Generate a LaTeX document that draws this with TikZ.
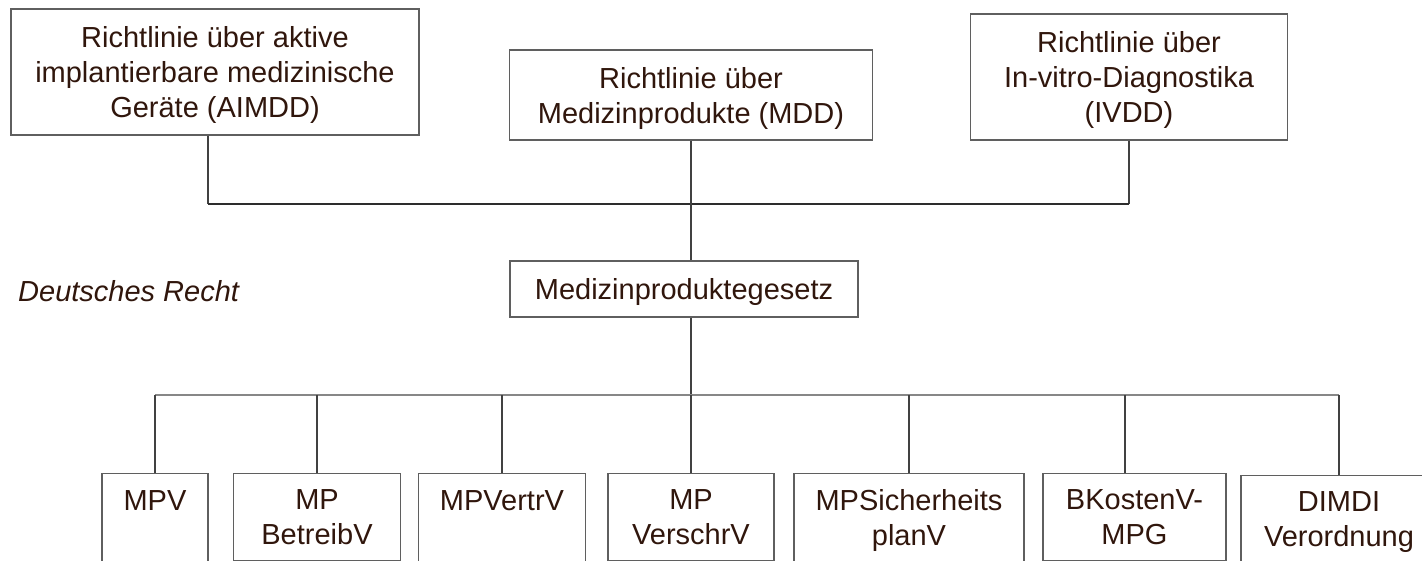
\documentclass[tikz,border=0pt]{standalone}
\usepackage{fontspec}
\setmainfont{Liberation Sans}
\usetikzlibrary{positioning}
\definecolor{schrift}{RGB}{48,22,12}
\definecolor{rahmen}{RGB}{95,95,95}
\definecolor{linie}{RGB}{65,65,65}
\definecolor{balken}{RGB}{45,45,45}
\definecolor{leiste}{RGB}{135,135,135}

\begin{document}
\begin{tikzpicture}[x=1pt,y=-1pt,
    every node/.style={text=schrift,font=\fontsize{29}{35}\selectfont},
    richtlinie/.style={draw=rahmen,line width=1.3pt,align=center,inner sep=0pt,text depth=0pt},
    verordnung/.style={draw=rahmen,line width=1.3pt,align=center,anchor=north,inner xsep=0pt,inner ysep=16pt},
    einzeilig/.style={text height=21pt,text depth=60pt},
    ast/.style={draw=linie,line width=1.3pt}]
            \useasboundingbox (0,0) rectangle (1422,560);
            \node[richtlinie,minimum width=408,minimum height=126] (aimdd) at (215,72) {Richtlinie über aktive\\implantierbare medizinische\\Geräte (AIMDD)};
            \node[richtlinie,minimum width=363,minimum height=90] (mdd) at (691,95) {Richtlinie über\\Medizinprodukte (MDD)};
            \node[richtlinie,minimum width=317,minimum height=126] (ivdd) at (1129,77) {Richtlinie über\\In-vitro-Diagnostika\\(IVDD)};
            \coordinate (busL) at (208,204); \coordinate (busR) at (1129,204);
            \draw[ast] (aimdd.south -| busL) -- (busL); \draw[ast] (ivdd.south -| busR) -- (busR);
            \draw[draw=balken,line width=2.5pt] (busL) -- (busR);
            \node[richtlinie,minimum width=348,minimum height=56] (mpg) at (684,289) {Medizinproduktegesetz};
            \node[font=\itshape\fontsize{29}{35}\selectfont,anchor=base west,inner sep=0pt] (recht) at (18,301) {Deutsches Recht};
            \draw[ast] (mdd.south) -- (mdd.south |- mpg.north);
            \coordinate (busU) at (691,395);
            \draw[ast] (mdd.south |- mpg.south) -- (busU);
            \node[verordnung,einzeilig,minimum width=106] (mpv) at (155,473) {MPV};
            \node[verordnung,minimum width=167] (betreib) at (317,473) {MP\\BetreibV};
            \node[verordnung,einzeilig,minimum width=167] (vertr) at (502,473) {MPVertrV};
            \node[verordnung,minimum width=166] (verschr) at (691,473) {MP\\VerschrV};
            \node[verordnung,minimum width=230] (sicher) at (909,473) {MPSicherheits\\planV};
            \node[verordnung,minimum width=183] (kosten) at (1134.5,473) {BKostenV-\\MPG};
            \node[verordnung,minimum width=196] (dimdi) at (1339,475) {DIMDI\\Verordnung};
            \coordinate (busA) at (155,395); \coordinate (busB) at (1339,395);
            \draw[draw=leiste,line width=1.3pt] (busA) -- (busB);
            \foreach \v in {mpv,betreib,vertr,verschr,sicher,dimdi} \draw[ast] (\v.north) -- (\v.north |- busA);
            \draw[ast] ([xshift=-9.5pt]kosten.north) -- ([xshift=-9.5pt]kosten.north |- busA);
        \end{tikzpicture}
\end{document}
